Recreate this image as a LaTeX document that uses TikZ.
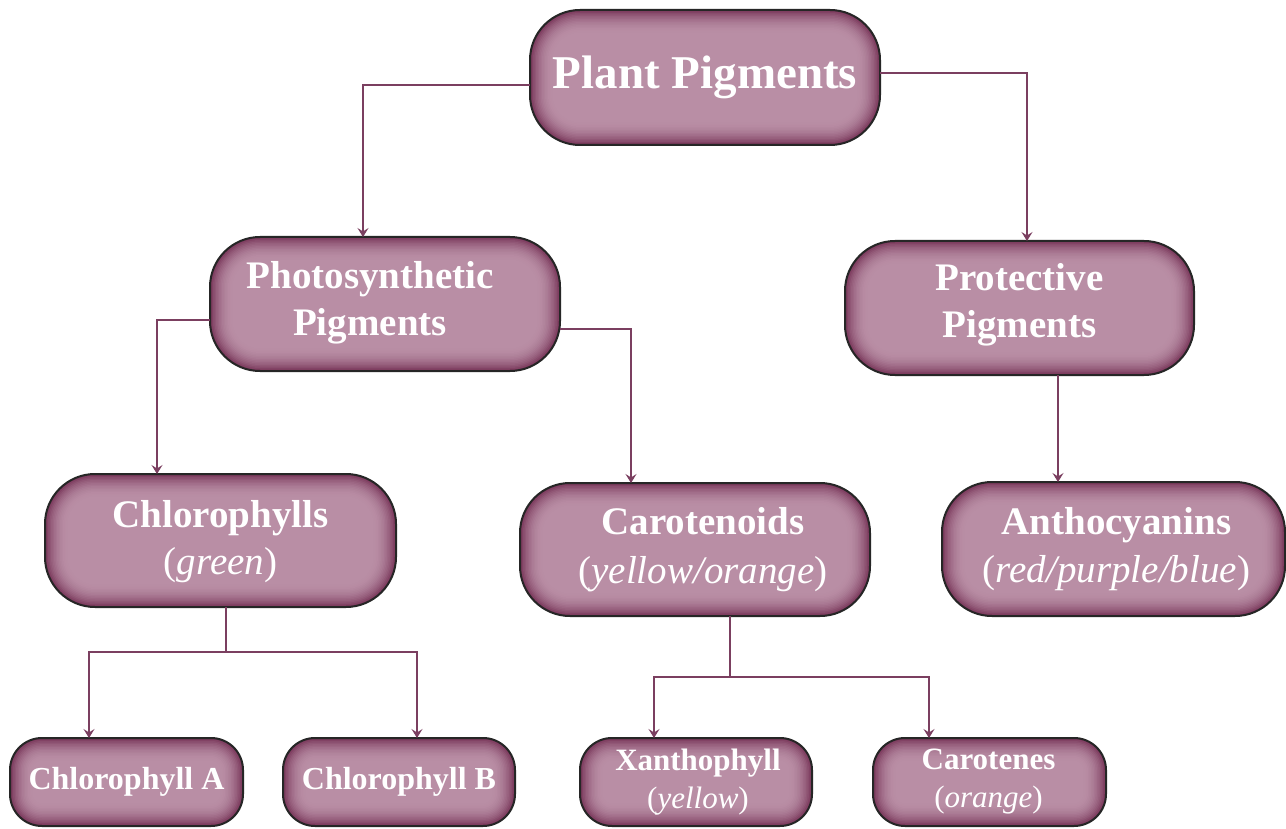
\documentclass[tikz,border=0pt]{standalone}
\usepackage{fontspec}
\setmainfont{Liberation Serif}
\usetikzlibrary{arrows.meta}
\definecolor{edgec}{HTML}{7A385B}
\definecolor{midc}{HTML}{B98EA5}
\definecolor{linec}{HTML}{7B3F60}
\newcommand\gbox[9]{%
  \node[minimum width=#4pt, minimum height=#5pt, inner sep=0pt, outer sep=0pt] (#1) at (#2,#3) {};
  \foreach \i in {0,...,15}{%
    \pgfmathsetmacro\dd{\i*1.5}%
    \pgfmathtruncatemacro\mm{100*(1-(1-\i/15)^2)}%
    \pgfmathsetmacro\rr{max(#6-\dd,2)}%
    \fill[midc!\mm!edgec, rounded corners=\rr pt] ([shift={(\dd pt,-\dd pt)}]#1.north west) rectangle ([shift={(-\dd pt,\dd pt)}]#1.south east);
  }
  \draw[line width=2pt, black!85, rounded corners=#6pt] (#1.north west) rectangle (#1.south east);
  \node[text=white, align=center, font=#7, inner sep=0pt] (#1-t) at ([shift={#9}]#1) {#8};
}
\tikzset{
  conn/.style={draw=linec, line width=1.4pt},
  arr/.style={conn, -{Stealth[length=9pt, width=11pt, inset=3.5pt]}}
}
\begin{document}
\begin{tikzpicture}[x=1pt, y=-1pt]
\useasboundingbox[fill=white] (0,0) rectangle (1286,829);
% boxes
\gbox{pp}{705}{77.5}{350}{135}{50}{\fontsize{47}{56}\selectfont\bfseries}{Plant Pigments}{(0pt,0pt)}
\gbox{ps}{385}{304}{350}{134}{50}{\fontsize{39}{47}\selectfont\bfseries}{Photosynthetic\\Pigments}{(-15pt,1pt)}
\gbox{pr}{1019.5}{308}{349}{134}{50}{\fontsize{39}{47}\selectfont\bfseries}{Protective\\Pigments}{(0pt,3pt)}
\gbox{ch}{220.5}{540.5}{351}{133}{50}{\fontsize{39}{47}\selectfont}{\textbf{Chlorophylls}\\(\textit{green})}{(0pt,-1pt)}
\gbox{ca}{695}{549.5}{350}{133}{50}{\fontsize{39}{49}\selectfont}{\textbf{Carotenoids}\\(\textit{yellow/orange})}{(8pt,0pt)}
\gbox{an}{1113.5}{549}{343}{134}{50}{\fontsize{39}{48}\selectfont}{\textbf{Anthocyanins}\\(\textit{red/purple/blue})}{(3pt,0pt)}
\gbox{cA}{126.5}{782}{233}{88}{32}{\fontsize{32}{38}\selectfont\bfseries}{Chlorophyll A}{(0pt,0pt)}
\gbox{cB}{399}{782}{232}{88}{32}{\fontsize{32}{38}\selectfont\bfseries}{Chlorophyll B}{(0pt,0pt)}
\gbox{xa}{696}{782}{232}{88}{32}{\fontsize{31}{38}\selectfont}{\textbf{Xanthophyll}\\(\textit{yellow})}{(2pt,0pt)}
\gbox{ct}{989.5}{782}{233}{88}{32}{\fontsize{31}{38}\selectfont}{\textbf{Carotenes}\\(\textit{orange})}{(-1pt,0pt)}
% connectors
\draw[arr] ([yshift=-7.5pt]pp.west) -| ([xshift=-22pt]ps.north);
\draw[arr] ([yshift=4.5pt]pp.east) -| ([xshift=7.5pt]pr.north);
\draw[arr] ([yshift=-16pt]ps.west) -| ([xshift=-63.5pt]ch.north);
\draw[arr] ([yshift=-25pt]ps.east) -| ([xshift=-64pt]ca.north);
\draw[arr] ([xshift=38.5pt]pr.south) -- ([xshift=-55.5pt]an.north);
\coordinate (j1) at (226,652);
\draw[conn] (ch.south -| j1) -- (j1);
\draw[arr] (j1) -| ([xshift=-37.5pt]cA.north);
\draw[arr] (j1) -| ([xshift=18pt]cB.north);
\coordinate (j2) at (730,677);
\draw[conn] (ca.south -| j2) -- (j2);
\draw[arr] (j2) -| ([xshift=-42pt]xa.north);
\draw[arr] (j2) -| ([xshift=-60.5pt]ct.north);
\end{tikzpicture}
\end{document}
